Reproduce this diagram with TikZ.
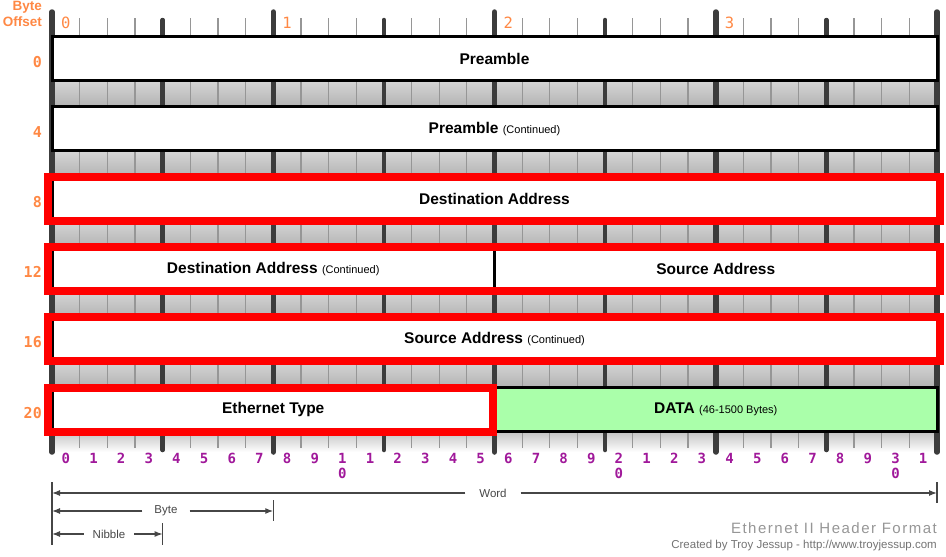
\documentclass[tikz,border=0pt]{standalone}
\usepackage{fontspec}
\usepackage{tikz}
\usetikzlibrary{positioning, arrows.meta}
\setmainfont{Liberation Sans}
\newfontfamily\monoFont{DejaVu Sans Mono}
\newfontfamily\creditFont[LetterSpace=10]{Liberation Sans}
\definecolor{offsetOrange}{RGB}{255,136,68}
\definecolor{bitPurple}{RGB}{160,24,154}
\definecolor{dataGreen}{RGB}{170,255,170}
\definecolor{frameRed}{RGB}{255,0,0}
\definecolor{tickDark}{RGB}{60,60,60}
\definecolor{tickLight}{RGB}{150,150,150}
\definecolor{dimGray}{RGB}{70,70,70}
\definecolor{titleGray}{RGB}{150,150,150}
\definecolor{creditGray}{RGB}{115,115,115}
\tikzstyle{header} = [x = 1pt, y = -1pt]
\tikzstyle{fieldStyle} = [draw=black, fill=white, line width=3pt, outer sep=0pt, inner sep=0pt, minimum height=44pt, font=\fontsize{15.5}{18}\selectfont\bfseries]
\tikzstyle{frameStyle} = [draw=frameRed, line width=8pt]
\tikzstyle{gapShade} = [top color=black!16, middle color=black!2, bottom color=black!30]
\tikzstyle{rulerShade} = [top color=black!22, bottom color=white]
\tikzstyle{bitTick} = [color=tickLight, line width=1.3pt]
\tikzstyle{nibbleTick} = [color=tickDark, line width=4.5pt, line cap=round]
\tikzstyle{byteTick} = [color=tickDark, line width=5.5pt, line cap=round]
\tikzstyle{offsetText} = [color=offsetOrange, inner sep=0pt, anchor=base east, font=\monoFont\bfseries\fontsize{15}{15}\selectfont]
\tikzstyle{headText} = [color=offsetOrange, inner sep=0pt, anchor=base east, font=\bfseries\fontsize{13.5}{14}\selectfont]
\tikzstyle{byteText} = [color=offsetOrange, inner sep=0pt, anchor=base, font=\monoFont\fontsize{15.5}{15}\selectfont]
\tikzstyle{bitText} = [color=bitPurple, inner sep=0pt, anchor=base, font=\monoFont\bfseries\fontsize{14}{14}\selectfont]
\tikzstyle{dimLine} = [color=dimGray, line width=1.2pt]
\tikzstyle{dimArrow} = [dimLine, -{Latex[length=8pt, width=6pt]}]
\tikzstyle{dimText} = [color=dimGray, inner sep=1pt, outer sep=11pt, font=\fontsize{11.5}{12}\selectfont]
\newcommand{\bitWidth}{27.656}
\newcommand{\rowPitch}{70.2}
\newcommand{\smallNote}[1]{{\mdseries\fontsize{11}{12}\selectfont #1}}
\newcommand{\field}[6][]{
  \pgfmathsetmacro{\fieldX}{52 + (#4 + #5) / 2 * \bitWidth}
  \pgfmathsetmacro{\fieldY}{58.5 + #3 * \rowPitch}
  \pgfmathsetmacro{\fieldW}{(#5 - #4) * \bitWidth}
  \node [fieldStyle, minimum width=\fieldW pt, #1] (#2) at (\fieldX, \fieldY) {#6};
}
\newcommand{\frameField}[4]{\draw [frameStyle] ([xshift=#3]#1.north west) rectangle ([xshift=#4]#2.south east);}

\begin{document}
\begin{tikzpicture}[header]
  \useasboundingbox (0,0) rectangle (946,557);
  % shaded gaps
  \foreach \row in {0,...,4} {
    \pgfmathsetmacro{\gapTop}{80.5 + \row * \rowPitch}
    \shade [gapShade] (52, \gapTop) rectangle (937, \gapTop + 26.2);
  }
  \shade [rulerShade] (52, 433) rectangle (937, 452);

  % ruler ticks
  \foreach \bit in {0,...,32} {
    \pgfmathsetmacro{\tickX}{52 + \bit * \bitWidth}
    \pgfmathtruncatemacro{\byteRest}{mod(\bit, 8)}
    \pgfmathtruncatemacro{\nibbleRest}{mod(\bit, 4)}
    \ifnum\byteRest=0
      \draw [byteTick] (\tickX, 12) -- (\tickX, 452);
    \else\ifnum\nibbleRest=0
      \draw [nibbleTick] (\tickX, 20) -- (\tickX, 450);
    \else
      \draw [bitTick] (\tickX, 18) -- (\tickX, 448);
    \fi\fi
  }

  % header fields
  \field{preamble}{0}{0}{32}{Preamble}
  \field{preambleCont}{1}{0}{32}{Preamble \smallNote{(Continued)}}
  \field{destAddr}{2}{0}{32}{Destination Address}
  \field{destCont}{3}{0}{16}{Destination Address \smallNote{(Continued)}}
  \field{srcAddr}{3}{16}{32}{Source Address}
  \field{srcCont}{4}{0}{32}{Source Address \smallNote{(Continued)}}
  \field{ethType}{5}{0}{16}{Ethernet Type}
  \field[fill=dataGreen]{data}{5}{16}{32}{DATA \smallNote{(46-1500 Bytes)}}

  \frameField{destAddr}{destAddr}{-4pt}{3pt}
  \frameField{destCont}{srcAddr}{-4pt}{3pt}
  \frameField{srcCont}{srcCont}{-4pt}{3pt}
  \frameField{ethType}{ethType}{-4pt}{-1.5pt}

  % offsets and bit numbers
  \node [headText] (byteHead) at (42, 10) {Byte};
  \node [headText] (offsetHead) at (42, 26) {Offset};
  \foreach \row in {0,...,5} {
    \pgfmathtruncatemacro{\offset}{4 * \row}
    \node [offsetText] (offset\row) at (42, 67 + \row * \rowPitch) {\offset};
  }
  \foreach \byte in {0,...,3} {
    \pgfmathsetmacro{\labelX}{52 + (8 * \byte + 0.5) * \bitWidth}
    \node [byteText] (byte\byte) at (\labelX, 28) {\byte};
  }
  \foreach \bit in {0,...,31} {
    \pgfmathsetmacro{\labelX}{52 + (\bit + 0.5) * \bitWidth}
    \pgfmathtruncatemacro{\ones}{mod(\bit, 10)}
    \pgfmathtruncatemacro{\topDigit}{(\ones == 0 && \bit > 0) ? \bit / 10 : \ones}
    \node [bitText] (bit\bit) at (\labelX, 463) {\topDigit};
    \ifnum\ones=0 \ifnum\bit>0
      \node [bitText] (bitLow\bit) at (\labelX, 478) {0};
    \fi\fi
  }

  % word, byte and nibble
  \coordinate (dimTop) at (52, 482);
  \coordinate (dimBottom) at (52, 545);
  \coordinate (wordStart) at (52, 493);
  \coordinate (wordEnd) at (937, 493);
  \coordinate (wordTickTop) at (937, 482);
  \coordinate (wordTickBottom) at (937, 503);
  \coordinate (byteStart) at (52, 511);
  \coordinate (byteEnd) at (273.25, 511);
  \coordinate (byteTickTop) at (273.25, 500);
  \coordinate (byteTickBottom) at (273.25, 521);
  \coordinate (nibbleStart) at (52, 534);
  \coordinate (nibbleEnd) at (162.6, 534);
  \coordinate (nibbleTickTop) at (162.6, 523);
  \coordinate (nibbleTickBottom) at (162.6, 545);
  \draw [dimLine] (dimTop) -- (dimBottom);
  \draw [dimLine] (wordTickTop) -- (wordTickBottom);
  \draw [dimLine] (byteTickTop) -- (byteTickBottom);
  \draw [dimLine] (nibbleTickTop) -- (nibbleTickBottom);
  \node [dimText, outer sep=13pt] (wordLabel) at (493, 493) {Word};
  \node [dimText] (byteLabel) at (166, 511) {Byte};
  \node [dimText, outer sep=8pt] (nibbleLabel) at (109, 534) {Nibble};
  \draw [dimArrow] (wordLabel) -- (wordStart);
  \draw [dimArrow] (wordLabel) -- (wordEnd);
  \draw [dimArrow] (byteLabel) -- (byteStart);
  \draw [dimArrow] (byteLabel) -- (byteEnd);
  \draw [dimArrow] (nibbleLabel) -- (nibbleStart);
  \draw [dimArrow] (nibbleLabel) -- (nibbleEnd);

  % credits
  \node [anchor=base east, inner sep=0pt, color=titleGray, font=\creditFont\fontsize{15}{16}\selectfont] (title) at (937, 533) {Ethernet II Header Format};
  \node [anchor=base east, inner sep=0pt, color=creditGray, font=\fontsize{11.5}{12}\selectfont] (credit) at (937, 548) {Created by Troy Jessup - http://www.troyjessup.com};
\end{tikzpicture}
\end{document}
